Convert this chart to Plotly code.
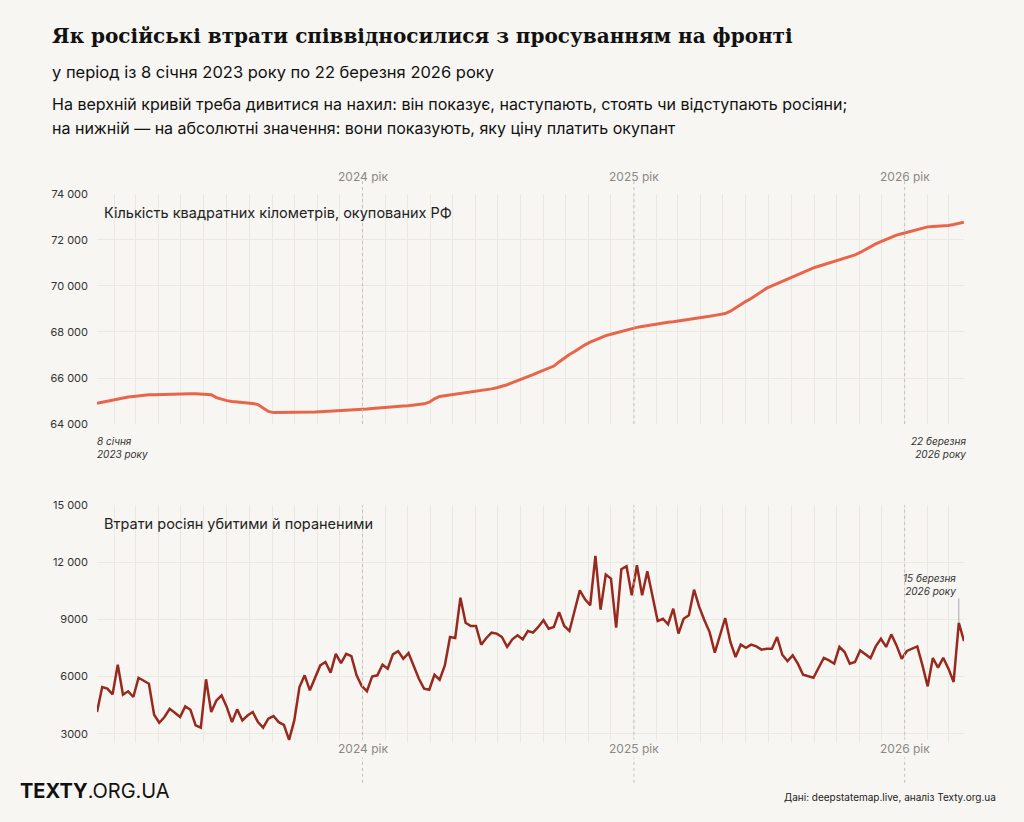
import plotly.graph_objects as go
import pandas as pd

dates = pd.date_range("2023-01-08", periods=168, freq="7D")

territory = [64900,64950,65000,65050,65100,65150,65180,65200,65230,65250,65270,
65280,65290,65300,65300,65310,65310,65320,65320,65320,65310,65300,
65280,65150,65080,65020,64980,64960,64950,64930,64900,64850,64700,64550,
64500,64500,64510,64510,64520,64510,64520,64520,64530,64540,64550,64560,
64580,64600,64610,64620,64630,64640,
64660,64680,64700,64740,64760,64770,64780,64790,64800,64820,64840,64880,
64950,65100,65200,65230,65260,65300,65330,65360,
65390,65420,65450,65490,65530,65580,65640,65710,65800,
65880,65970,66060,66150,66250,66330,66430,
66520,66700,66880,67020,67150,67300,
67440,67560,67660,67760,67840,
67900,67960,68030,68100,68150,
68200,68240,68280,68330,68370,68400,
68420,68440,68470,68500,68530,68560,
68600,68640,68680,68720,68760,
68800,68900,69050,69200,69330,69450,69600,69750,
69900,70000,70100,70200,70300,
70400,70500,70600,70700,70780,
70850,70920,70990,71060,
71130,71200,71270,71340,
71450,71580,71700,71820,
71920,72020,72120,72200,72260,
72320,72380,72440,72520,72560,
72580,72590,72600,72620,
72660,72700,72760]

losses = [4140,5450,5370,5070,6630,5050,5230,4930,5940,5800,5630,4000,3580,3880,4310,4100,
3880,4440,4260,3440,3320,5860,4140,4750,5010,4400,3610,4280,3700,3960,4140,3610,3320,
3790,3930,3610,3470,2680,3700,5450,6070,5280,5980,6590,6770,6210,7200,6710,7200,7080,
6070,5510,5240,6010,6070,6630,6420,7170,7340,6940,7240,6590,5890,5370,5310,6100,5840,
6590,8080,8030,10150,8830,8660,8660,7680,8030,8310,8260,8080,7560,7960,8170,7960,8400,
8310,8610,
8960,8520,8610,9390,8660,8400,9480,10530,10060,9750,12340,9520,11360,11150,8570,11640,
11800,10270,11850,10270,11530,10180,8920,9040,8750,9570,8260,9040,9220,10570,9660,8960,
8340,7260,8130,9080,7820,7030,7680,7520,7680,7590,7420,7470,7470,8080,7150,6820,7120,
6680,6100,6030,5940,6470,6980,6850,6680,7560,7290,6680,6770,7380,7170,6980,7590,7990,
7560,8220,7640,6940,7350,7470,7590,6590,5490,6980,6470,6990,6420,5720,8830,7870]

top_ticks = [64000,66000,68000,70000,72000,74000]
top_ticktext = ["64 000","66 000","68 000","70 000","72 000","74 000"]
bot_ticks = [3000,6000,9000,12000,15000]
bot_ticktext = ["3000","6000","9000","12 000","15 000"]
years = ["2024-01-01","2025-01-01","2026-01-01"]
year_labels = ["2024 рік","2025 рік","2026 рік"]

W, H = 1024, 822
def px(x): return x / W
def py(y):
    y = (y - 7.7) / 0.981
    return 1 - y / H

FONT = "Inter"
GRID = "#ebe8e2"
BG = "#f8f6f2"

fig = go.Figure()
fig.add_trace(go.Scatter(x=dates, y=territory, mode="lines", line=dict(color="#e8654a", width=3),
                         xaxis="x", yaxis="y", hoverinfo="skip"))
fig.add_trace(go.Scatter(x=dates[:len(losses)], y=losses, mode="lines",
                         line=dict(color="#97291f", width=2.5), xaxis="x2", yaxis="y2",
                         hoverinfo="skip"))

xr = [dates[0], dates[-1]]
xcommon = dict(range=xr, showgrid=True, gridcolor=GRID, gridwidth=1, dtick="M1", tick0="2023-01-01",
               showticklabels=False, zeroline=False, showline=False, ticks="")
fig.update_layout(
    width=W, height=H, paper_bgcolor=BG, plot_bgcolor=BG, showlegend=False,
    margin=dict(l=0, r=0, t=0, b=0),
    font=dict(family=FONT, color="#222"),
    xaxis=dict(domain=[px(97), px(964)], anchor="y", **xcommon),
    xaxis2=dict(domain=[px(97), px(964)], anchor="y2", **xcommon),
    yaxis=dict(domain=[py(424), py(194)], range=[64000, 74000], tickvals=top_ticks, ticktext=top_ticktext,
               showgrid=True, gridcolor=GRID, zeroline=False, tickfont=dict(size=11, color="#333"), ticklabelstandoff=8),
    yaxis2=dict(domain=[py(742.5), py(505)], range=[2500, 15000], tickvals=bot_ticks, ticktext=bot_ticktext,
                showgrid=True, gridcolor=GRID, zeroline=False, tickfont=dict(size=11, color="#333"), ticklabelstandoff=8),
)

shapes = []
ann = []
for d, lab in zip(years, year_labels):
    shapes.append(dict(type="line", xref="x", yref="paper", x0=d, x1=d, y0=py(424), y1=py(178),
                       line=dict(color="#c4c1bb", width=1, dash="3px,3px")))
    shapes.append(dict(type="line", xref="x2", yref="paper", x0=d, x1=d, y0=py(782), y1=py(505),
                       line=dict(color="#c4c1bb", width=1, dash="3px,3px")))
    ann.append(dict(x=d, y=py(167), xref="x", yref="paper", text=lab, showarrow=False,
                    font=dict(size=12, color="#8a8884", family=FONT)))
    ann.append(dict(x=d, y=py(757), xref="x2", yref="paper", text=lab, showarrow=False,
                    bgcolor=BG, font=dict(size=12, color="#8a8884", family=FONT)))

shapes.append(dict(type="line", xref="x2", yref="paper", x0=dates[-2], x1=dates[-2], y0=py(622), y1=py(598),
                   line=dict(color="#aaa", width=1)))

def txt(x, y, t, size, color="#222", xa="left", ya="middle", **kw):
    ann.append(dict(x=px(x), y=py(y), xref="paper", yref="paper", text=t, showarrow=False,
                    xanchor=xa, yanchor=ya, align=xa, font=dict(size=size, color=color, family=kw.get("family", FONT))))

txt(50, 37, "<b>Як російські втрати співвідносилися з просуванням на фронті</b>", 20, "#111", family="DejaVu Serif")
txt(50, 73, "у період із 8 січня 2023 року по 22 березня 2026 року", 16.5, "#111")
txt(50, 105, "На верхній кривій треба дивитися на нахил: він показує, наступають, стоять чи відступають росіяни;", 16, "#111")
txt(50, 128, "на нижній — на абсолютні значення: вони показують, яку ціну платить окупант", 16, "#111")
txt(102, 213, "Кількість квадратних кілометрів, окупованих РФ", 14.5, "#222")
txt(102, 523, "Втрати росіян убитими й пораненими", 14.5, "#222")
txt(95, 447, "<i>8 січня<br>2023 року</i>", 10, "#333")
txt(968, 447, "<i>22 березня<br>2026 року</i>", 10, "#333", xa="right")
txt(958, 584, "<i>15 березня<br>2026 року</i>", 10, "#333", xa="right")
txt(18, 790, "<b>TEXTY</b>.ORG.UA", 20, "#111")
txt(998, 796, "Дані: deepstatemap.live, аналіз Texty.org.ua", 10, "#222", xa="right")

fig.update_layout(shapes=shapes, annotations=ann)
fig.write_html("out.html", config={"displayModeBar": False},
               post_script="document.body.style.margin='0';document.body.style.overflow='hidden';")
